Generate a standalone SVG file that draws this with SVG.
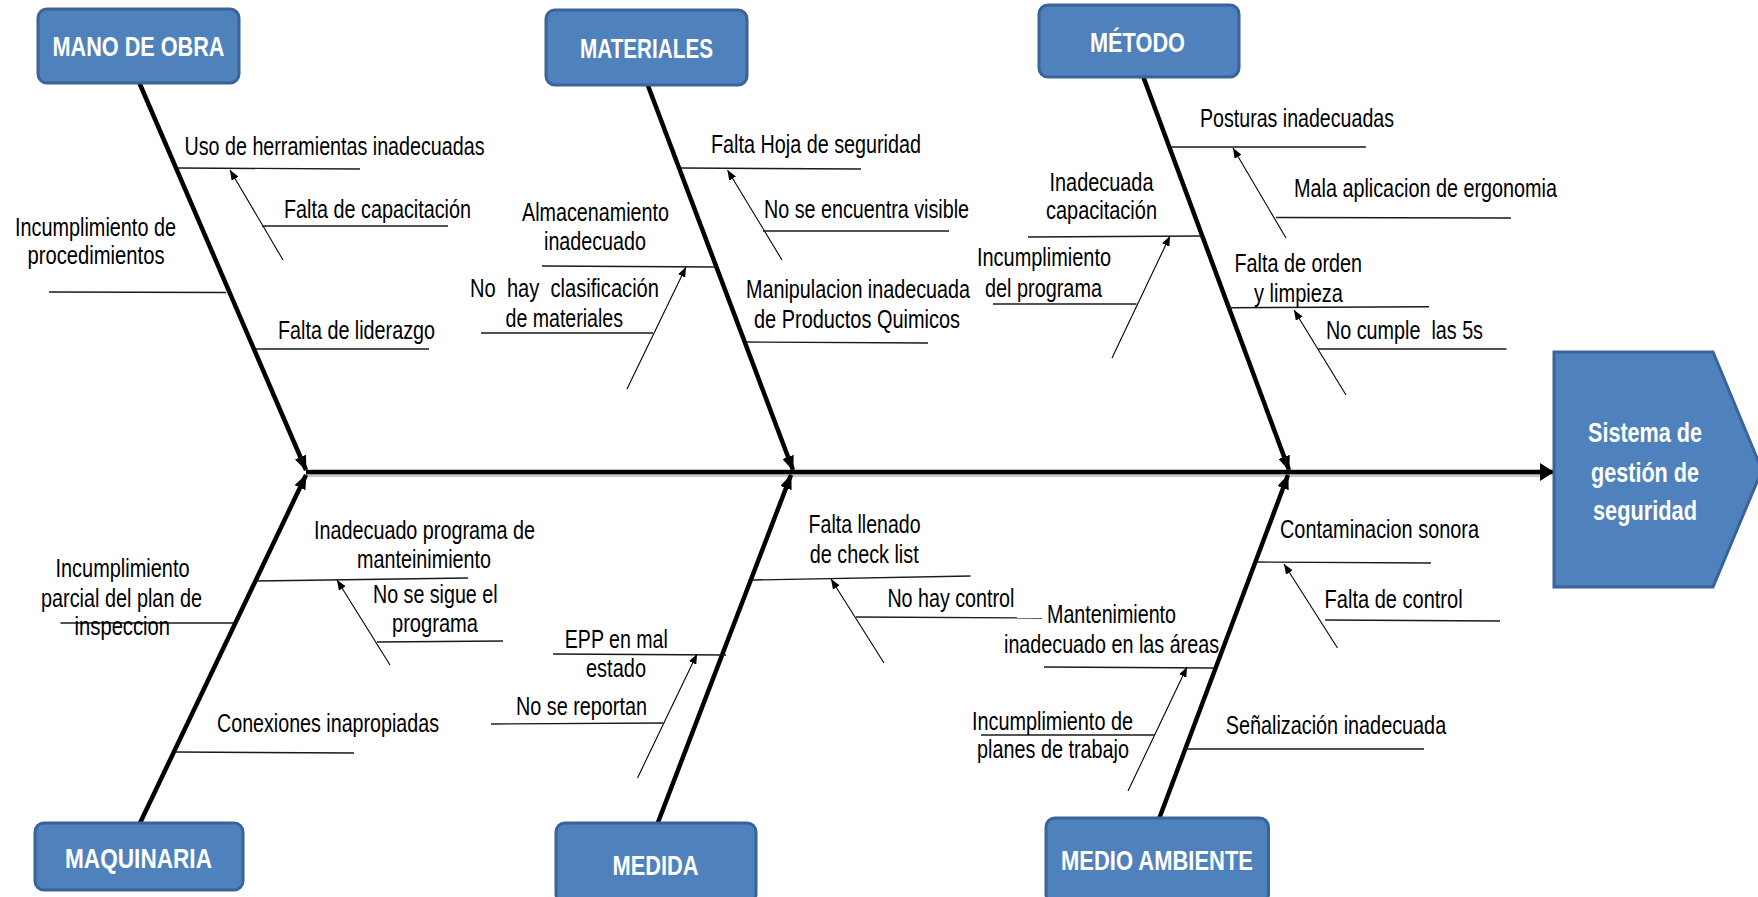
<svg xmlns="http://www.w3.org/2000/svg" width="1758" height="897" viewBox="0 0 1758 897">
<defs>
<style>
.box{fill:#4F81BD;stroke:#3A639A;stroke-width:3}
.bt{font-family:"Liberation Sans",Arial,sans-serif;font-weight:bold;font-size:28px;fill:#fff;text-anchor:middle}
.t{font-family:"Liberation Sans",Arial,sans-serif;font-size:26px;fill:#000;white-space:pre}
.bone{stroke:#000;stroke-width:4.5;fill:none;marker-end:url(#big)}
.sub{stroke:#1a1a1a;stroke-width:1.4;fill:none}
.arr{stroke:#000;stroke-width:1.1;fill:none;marker-end:url(#small)}
</style>
<marker id="big" viewBox="0 0 15 12" refX="14" refY="6" markerWidth="15" markerHeight="12" markerUnits="userSpaceOnUse" orient="auto"><path d="M0,0 L15,6 L0,12 z" fill="#000"/></marker>
<marker id="spine" viewBox="0 0 14 18" refX="13" refY="9" markerWidth="14" markerHeight="18" markerUnits="userSpaceOnUse" orient="auto"><path d="M0,0 L14,9 L0,18 z" fill="#000"/></marker>
<marker id="small" viewBox="0 0 10 8" refX="10" refY="4" markerWidth="10" markerHeight="8" markerUnits="userSpaceOnUse" orient="auto"><path d="M0,0 L10,4 L0,8 z" fill="#000"/></marker>
</defs>
<rect width="1758" height="897" fill="#fff"/>

<g id="connectors">
<line x1="306" y1="475" x2="1540" y2="475" stroke="#c8c8c8" stroke-width="4"/>
<line x1="306" y1="472" x2="1553" y2="472" stroke="#000" stroke-width="4.5" marker-end="url(#spine)"/>
<line class="bone" x1="139" y1="82" x2="306" y2="470"/>
<line class="bone" x1="647" y1="83" x2="793" y2="470"/>
<line class="bone" x1="1143" y1="76" x2="1289" y2="470"/>
<line class="bone" x1="140" y1="823" x2="306" y2="475"/>
<line class="bone" x1="657" y1="825" x2="791" y2="475"/>
<line class="bone" x1="1159" y1="819" x2="1288" y2="475"/>

<line class="sub" x1="178" y1="168" x2="360" y2="169"/>
<line class="arr" x1="283" y1="260" x2="230" y2="170"/>
<line class="sub" x1="262" y1="226" x2="448" y2="226"/>
<line class="sub" x1="49" y1="292" x2="226" y2="292.5"/>
<line class="sub" x1="256" y1="349" x2="429" y2="349"/>

<line class="sub" x1="681" y1="168" x2="861" y2="169"/>
<line class="arr" x1="782" y1="260" x2="727.5" y2="170"/>
<line class="sub" x1="763" y1="231" x2="949" y2="231"/>
<line class="sub" x1="542" y1="266" x2="716" y2="267"/>
<line class="arr" x1="627" y1="389" x2="686" y2="267"/>
<line class="sub" x1="481" y1="333" x2="653" y2="333"/>
<line class="sub" x1="746" y1="342" x2="928" y2="343"/>

<line class="sub" x1="1170" y1="147" x2="1366" y2="147"/>
<line class="arr" x1="1286" y1="238" x2="1233" y2="148"/>
<line class="sub" x1="1276" y1="217.5" x2="1511" y2="218"/>
<line class="sub" x1="1028" y1="237" x2="1201" y2="236"/>
<line class="arr" x1="1112" y1="358" x2="1170" y2="236"/>
<line class="sub" x1="993" y1="304" x2="1136.5" y2="304"/>
<line class="sub" x1="1230" y1="307.7" x2="1429" y2="306.7"/>
<line class="arr" x1="1346" y1="395" x2="1294" y2="310"/>
<line class="sub" x1="1318" y1="349" x2="1506.5" y2="349"/>

<line class="sub" x1="257" y1="581" x2="468" y2="578"/>
<line class="arr" x1="390" y1="665" x2="337" y2="580"/>
<line class="sub" x1="377" y1="642" x2="503" y2="641"/>
<line class="sub" x1="60.5" y1="623" x2="234" y2="623"/>
<line class="sub" x1="175" y1="752" x2="354" y2="753"/>

<line class="sub" x1="753" y1="580" x2="970.5" y2="576"/>
<line class="arr" x1="884" y1="663" x2="831" y2="579"/>
<line class="sub" x1="856" y1="617" x2="1042" y2="618"/>
<line class="sub" x1="553" y1="654" x2="726" y2="655"/>
<line class="arr" x1="637.5" y1="778" x2="697" y2="654"/>
<line class="sub" x1="491" y1="724" x2="663" y2="723"/>

<line class="sub" x1="1256" y1="562" x2="1431" y2="563"/>
<line class="arr" x1="1337.5" y1="648" x2="1284" y2="564"/>
<line class="sub" x1="1325" y1="620" x2="1500" y2="621"/>
<line class="sub" x1="1044" y1="667" x2="1214" y2="668"/>
<line class="arr" x1="1128" y1="791" x2="1187" y2="667"/>
<line class="sub" x1="981" y1="735" x2="1155" y2="735"/>
<line class="sub" x1="1186" y1="749" x2="1424" y2="749"/>
</g>

<g id="mano-de-obra">
<rect class="box" x="38" y="9" width="201" height="74" rx="9"/>
<text class="bt" x="138.5" y="56" textLength="172" lengthAdjust="spacingAndGlyphs">MANO DE OBRA</text>
<text class="t" x="184.5" y="155" textLength="300" lengthAdjust="spacingAndGlyphs">Uso de herramientas inadecuadas</text>
<text class="t" x="284" y="218" textLength="187" lengthAdjust="spacingAndGlyphs">Falta de capacitación</text>
<text class="t" x="15" y="236" textLength="161" lengthAdjust="spacingAndGlyphs">Incumplimiento de</text>
<text class="t" x="27.5" y="264" textLength="137" lengthAdjust="spacingAndGlyphs">procedimientos</text>
<text class="t" x="278" y="339" textLength="157" lengthAdjust="spacingAndGlyphs">Falta de liderazgo</text>
</g>

<g id="materiales">
<rect class="box" x="546" y="10" width="201" height="75" rx="9"/>
<text class="bt" x="646.5" y="58" textLength="133" lengthAdjust="spacingAndGlyphs">MATERIALES</text>
<text class="t" x="711" y="153" textLength="210" lengthAdjust="spacingAndGlyphs">Falta Hoja de seguridad</text>
<text class="t" x="764" y="218" textLength="205" lengthAdjust="spacingAndGlyphs">No se encuentra visible</text>
<text class="t" x="522" y="221" textLength="147" lengthAdjust="spacingAndGlyphs">Almacenamiento</text>
<text class="t" x="544" y="250" textLength="102" lengthAdjust="spacingAndGlyphs">inadecuado</text>
<text class="t" x="470" y="297" textLength="189" lengthAdjust="spacingAndGlyphs">No  hay  clasificación</text>
<text class="t" x="505.5" y="327" textLength="117.5" lengthAdjust="spacingAndGlyphs">de materiales</text>
<text class="t" transform="matrix(0.76,0,0,1,746,298)" x="0" y="0" textLength="294.7" lengthAdjust="spacingAndGlyphs">Manipulacion inadecuada</text>
<text class="t" x="754" y="328" textLength="206" lengthAdjust="spacingAndGlyphs">de Productos Quimicos</text>
</g>

<g id="metodo">
<rect class="box" x="1039" y="5" width="200" height="72" rx="9"/>
<text class="bt" x="1137.5" y="52" textLength="95" lengthAdjust="spacingAndGlyphs">MÉTODO</text>
<text class="t" x="1200" y="127" textLength="194" lengthAdjust="spacingAndGlyphs">Posturas inadecuadas</text>
<text class="t" x="1294" y="197" textLength="263" lengthAdjust="spacingAndGlyphs">Mala aplicacion de ergonomia</text>
<text class="t" x="1049.5" y="191" textLength="104" lengthAdjust="spacingAndGlyphs">Inadecuada</text>
<text class="t" x="1046" y="219" textLength="111" lengthAdjust="spacingAndGlyphs">capacitación</text>
<text class="t" x="977" y="266" textLength="134" lengthAdjust="spacingAndGlyphs">Incumplimiento</text>
<text class="t" x="985" y="297" textLength="117" lengthAdjust="spacingAndGlyphs">del programa</text>
<text class="t" x="1234.5" y="272" textLength="127.5" lengthAdjust="spacingAndGlyphs">Falta de orden</text>
<text class="t" x="1254" y="302" textLength="89" lengthAdjust="spacingAndGlyphs">y limpieza</text>
<text class="t" x="1326" y="339" textLength="157" lengthAdjust="spacingAndGlyphs">No cumple  las 5s</text>
</g>

<g id="maquinaria">
<rect class="box" x="35" y="823" width="208" height="67" rx="9"/>
<text class="bt" x="138.5" y="868" textLength="147" lengthAdjust="spacingAndGlyphs">MAQUINARIA</text>
<text class="t" x="314" y="539" textLength="221" lengthAdjust="spacingAndGlyphs">Inadecuado programa de</text>
<text class="t" x="357" y="568" textLength="134" lengthAdjust="spacingAndGlyphs">manteinimiento</text>
<text class="t" x="373" y="603" textLength="124.5" lengthAdjust="spacingAndGlyphs">No se sigue el</text>
<text class="t" x="392" y="632" textLength="86" lengthAdjust="spacingAndGlyphs">programa</text>
<text class="t" x="55.5" y="577" textLength="134" lengthAdjust="spacingAndGlyphs">Incumplimiento</text>
<text class="t" x="41" y="607" textLength="161" lengthAdjust="spacingAndGlyphs">parcial del plan de</text>
<text class="t" x="74.6" y="635" textLength="95.4" lengthAdjust="spacingAndGlyphs">inspeccion</text>
<text class="t" x="217" y="732" textLength="222" lengthAdjust="spacingAndGlyphs">Conexiones inapropiadas</text>
</g>

<g id="medida">
<rect class="box" x="556" y="823" width="200" height="80" rx="9"/>
<text class="bt" x="655.5" y="875" textLength="86" lengthAdjust="spacingAndGlyphs">MEDIDA</text>
<text class="t" x="808.6" y="533" textLength="112" lengthAdjust="spacingAndGlyphs">Falta llenado</text>
<text class="t" x="809.7" y="563" textLength="109" lengthAdjust="spacingAndGlyphs">de check list</text>
<text class="t" x="887.4" y="607" textLength="127" lengthAdjust="spacingAndGlyphs">No hay control</text>
<text class="t" x="564.8" y="648" textLength="103" lengthAdjust="spacingAndGlyphs">EPP en mal</text>
<text class="t" x="586" y="677" textLength="60" lengthAdjust="spacingAndGlyphs">estado</text>
<text class="t" x="516" y="715" textLength="131" lengthAdjust="spacingAndGlyphs">No se reportan</text>
</g>

<g id="medio-ambiente">
<rect class="box" x="1046" y="818" width="222.5" height="85" rx="9"/>
<text class="bt" x="1157" y="870" textLength="192" lengthAdjust="spacingAndGlyphs">MEDIO AMBIENTE</text>
<text class="t" x="1280" y="538" textLength="199" lengthAdjust="spacingAndGlyphs">Contaminacion sonora</text>
<text class="t" x="1324.6" y="608" textLength="138" lengthAdjust="spacingAndGlyphs">Falta de control</text>
<text class="t" x="1047" y="623" textLength="129" lengthAdjust="spacingAndGlyphs">Mantenimiento</text>
<text class="t" x="1004" y="653" textLength="215" lengthAdjust="spacingAndGlyphs">inadecuado en las áreas</text>
<text class="t" x="972" y="730" textLength="161" lengthAdjust="spacingAndGlyphs">Incumplimiento de</text>
<text class="t" x="977" y="758" textLength="152" lengthAdjust="spacingAndGlyphs">planes de trabajo</text>
<text class="t" x="1225.7" y="734" textLength="220.5" lengthAdjust="spacingAndGlyphs">Señalización inadecuada</text>
</g>

<g id="sistema">
<path class="box" d="M1554,352 L1713,352 L1762,470 L1713,587 L1554,587 Z"/>
<text class="bt" x="1645" y="442" textLength="114" lengthAdjust="spacingAndGlyphs">Sistema de</text>
<text class="bt" x="1645" y="482" textLength="108" lengthAdjust="spacingAndGlyphs">gestión de</text>
<text class="bt" x="1645" y="520" textLength="104" lengthAdjust="spacingAndGlyphs">seguridad</text>
</g>
</svg>
